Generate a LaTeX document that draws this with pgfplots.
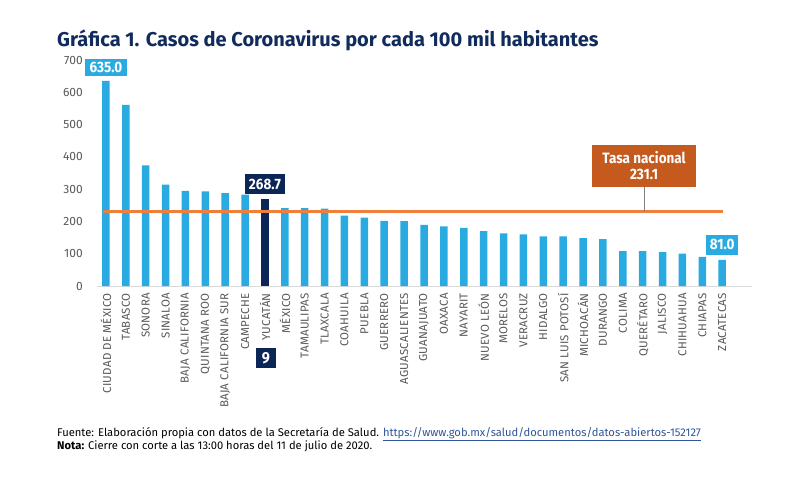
\documentclass[border=0pt]{standalone}
\usepackage{pgfplots}
\pgfplotsset{compat=1.18}
\usepackage{pgfplotstable}
\usepackage{fontspec}
\setmainfont{Fira Sans}
\newfontfamily\boxfont{Fira Sans}[FakeStretch=0.9]
\newfontfamily\labfont{Fira Sans}[LetterSpace=2]
\definecolor{barblue}{HTML}{29ABE2}
\definecolor{navy}{HTML}{0C2557}
\definecolor{lineorange}{HTML}{F07F3C}
\definecolor{boxorange}{HTML}{C55A1E}
\definecolor{titlenavy}{HTML}{102B5C}
\definecolor{txtgray}{HTML}{595959}
\definecolor{axgray}{HTML}{D9D9D9}
\definecolor{urlblue}{HTML}{2F5597}

\pgfplotstableread{
x y
0 635.0
1 561
2 374
3 314
4 295
5 293
6 288
7 283
9 241
10 241
11 240
12 218
13 212
14 202
15 201
16 189
17 185
18 180
19 170
20 163
21 160
22 154
23 154
24 148
25 145
26 108
27 108
28 105
29 100
30 90
31 81.0
}\estados
\pgfplotstableread{
x y
8 268.7
}\yucatan

\begin{document}
\begin{tikzpicture}[x=1pt,y=1pt]
\path[use as bounding box] (0,0) rectangle (800,477);
\node[anchor=base west, inner sep=0pt, text=titlenavy, font=\bfseries\fontsize{20}{24}\selectfont] at (57,430) {Gráfica 1. Casos de Coronavirus por cada 100 mil habitantes};
\begin{axis}[
  at={(97pt,191pt)}, anchor=south west,
  scale only axis, width=655pt, height=226pt,
  xmin=-0.45, xmax=32.5, ymin=0, ymax=700,
  ybar, bar width=7.5pt, bar shift=0pt,
  clip=false,
  axis x line*=bottom,
  axis y line*=left,
  x axis line style={draw=axgray, line width=0.8pt, -},
  y axis line style={draw=none},
  ytick={0,100,...,700},
  major tick length=0pt,
  xtick={0,...,31},
  xticklabels={CIUDAD DE MÉXICO,TABASCO,SONORA,SINALOA,BAJA CALIFORNIA,QUINTANA ROO,BAJA CALIFORNIA SUR,CAMPECHE,YUCATÁN,MÉXICO,TAMAULIPAS,TLAXCALA,COAHUILA,PUEBLA,GUERRERO,AGUASCALIENTES,GUANAJUATO,OAXACA,NAYARIT,NUEVO LEÓN,MORELOS,VERACRUZ,HIDALGO,SAN LUIS POTOSÍ,MICHOACÁN,DURANGO,COLIMA,QUERÉTARO,JALISCO,CHIHUAHUA,CHIAPAS,ZACATECAS},
  xticklabel style={rotate=90, anchor=east, inner sep=0pt, text=txtgray, font=\labfont\fontsize{11.5}{13}\selectfont},
  xticklabel shift=7pt,
  /pgf/number format/assume math mode=true,
  yticklabel style={anchor=east, inner sep=0pt, text=txtgray, font=\fontsize{12}{14}\selectfont},
  yticklabel shift=14pt,
]
\addplot[fill=barblue, draw=none] table[x=x,y=y] {\estados};
\addplot[fill=navy, draw=none] table[x=x,y=y] {\yucatan};
\addplot[ybar=none, sharp plot, draw=lineorange, line width=3pt, mark=none] coordinates {(-0.15,231.1) (31.04,231.1)};
\draw[gray, line width=0.6pt] (axis cs:27.07,231.1) -- (axis cs:27.07,306);
\node[fill=boxorange, text=white, minimum width=104pt, minimum height=42pt, inner sep=0pt, align=center, font=\boxfont\bfseries\fontsize{15}{16}\selectfont] at (axis cs:27.07,371.6) {Tasa nacional\\231.1};
\node[anchor=south, yshift=5pt, fill=barblue, text=white, minimum width=42pt, minimum height=17pt, inner sep=0pt, font=\boxfont\bfseries\fontsize{15}{16}\selectfont] at (axis cs:0,635) {635.0};
\node[anchor=south, yshift=5pt, fill=navy, text=white, minimum width=40pt, minimum height=20pt, inner sep=0pt, font=\boxfont\bfseries\fontsize{15}{16}\selectfont] at (axis cs:8,268.7) {268.7};
\node[anchor=south, yshift=5pt, fill=barblue, text=white, minimum width=32pt, minimum height=20pt, inner sep=0pt, font=\boxfont\bfseries\fontsize{15}{16}\selectfont] at (axis cs:31,81) {81.0};
\node[fill=navy, text=white, minimum width=20pt, minimum height=20pt, inner sep=0pt, font=\boxfont\bfseries\fontsize{16}{18}\selectfont] at (axis cs:8.05,-223) {9};
\end{axis}
\node[anchor=base west, inner sep=0pt, text=black, font=\fontsize{11.2}{13}\selectfont] at (57,41) {Fuente: Elaboración propia con datos de la Secretaría de Salud. \textcolor{urlblue}{\underline{https://www.gob.mx/salud/documentos/datos-abiertos-152127}}};
\node[anchor=base west, inner sep=0pt, text=black, font=\fontsize{11.2}{13}\selectfont] at (57,28) {\textbf{Nota:} Cierre con corte a las 13:00 horas del 11 de julio de 2020.};
\end{tikzpicture}
\end{document}
